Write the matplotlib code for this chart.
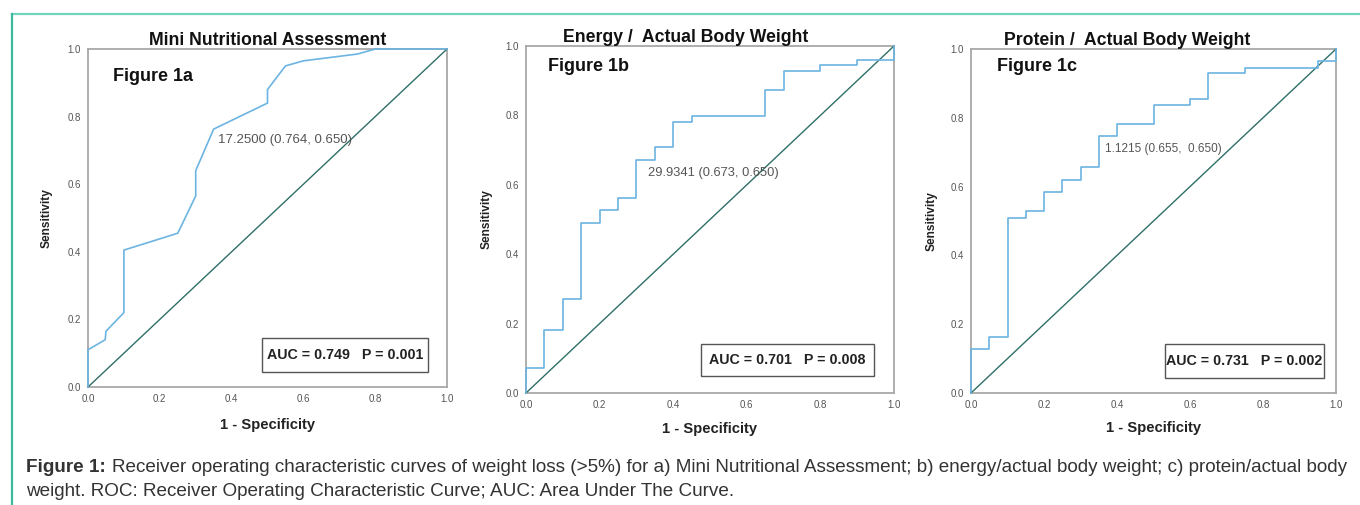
import matplotlib
matplotlib.use('Agg')
import matplotlib.pyplot as plt
from matplotlib.patches import Rectangle
from matplotlib.lines import Line2D

W, H = 1360, 505

# ROC curve points (1 - specificity, sensitivity)
mna_fpr = [0.0, 0.0, 0.048, 0.05, 0.10, 0.10, 0.25, 0.30, 0.30, 0.35, 0.50, 0.50, 0.55, 0.60, 0.75, 0.80, 1.0]
mna_tpr = [0.0, 0.11, 0.14, 0.165, 0.22, 0.405, 0.455, 0.565, 0.64, 0.763, 0.84, 0.88, 0.95, 0.965, 0.985, 1.0, 1.0]

energy_fpr = [0.0, 0.0, 0.05, 0.05, 0.10, 0.10, 0.15, 0.15, 0.20, 0.20, 0.25, 0.25, 0.30, 0.30, 0.35, 0.35,
              0.40, 0.40, 0.45, 0.45, 0.65, 0.65, 0.70, 0.70, 0.80, 0.80, 0.90, 0.90, 1.0, 1.0]
energy_tpr = [0.0, 0.073, 0.073, 0.182, 0.182, 0.271, 0.271, 0.491, 0.491, 0.526, 0.526, 0.562, 0.562, 0.671,
              0.671, 0.709, 0.709, 0.78, 0.78, 0.798, 0.798, 0.874, 0.874, 0.929, 0.929, 0.946, 0.946, 0.961, 0.961, 1.0]

protein_fpr = [0.0, 0.0, 0.05, 0.05, 0.10, 0.10, 0.15, 0.15, 0.20, 0.20, 0.25, 0.25, 0.30, 0.30, 0.35, 0.35,
               0.40, 0.40, 0.50, 0.50, 0.60, 0.60, 0.65, 0.65, 0.75, 0.75, 0.95, 0.95, 1.0, 1.0]
protein_tpr = [0.0, 0.128, 0.128, 0.164, 0.164, 0.51, 0.51, 0.529, 0.529, 0.583, 0.583, 0.619, 0.619, 0.656,
               0.656, 0.747, 0.747, 0.783, 0.783, 0.837, 0.837, 0.856, 0.856, 0.929, 0.929, 0.946, 0.946, 0.965, 0.965, 1.0]

titles = ['Mini Nutritional Assessment', 'Energy /  Actual Body Weight', 'Protein /  Actual Body Weight']
tags = ['Figure 1a', 'Figure 1b', 'Figure 1c']
cutoffs = ['17.2500 (0.764, 0.650)', '29.9341 (0.673, 0.650)', '1.1215 (0.655,  0.650)']
auc_text = ['AUC = 0.749   P = 0.001', 'AUC = 0.701   P = 0.008', 'AUC = 0.731   P = 0.002']
ticks = [0.0, 0.2, 0.4, 0.6, 0.8, 1.0]

# layout in pixels: left, right, top, bottom of each axes
boxes = [(88, 447, 49, 387), (526, 894, 46, 393), (971, 1336, 49, 393)]
title_x = [0.5, 0.435, 0.427]
tag_xy = [(0.07, 0.92), (0.06, 0.94), (0.071, 0.95)]
cut_xy = [(0.362, 0.73), (0.332, 0.634), (0.367, 0.709)]
cut_size = [9.5, 9.3, 8.5]
auc_box = [(0.485, 0.044, 0.462, 0.10), (0.476, 0.049, 0.47, 0.092), (0.532, 0.044, 0.435, 0.098)]
ylab_x = [47, 487, 932]
xlab_y = [425, 429, 428]

plt.rcParams['font.family'] = ['Liberation Sans', 'DejaVu Sans']
fig = plt.figure(figsize=(W/100, H/100), dpi=100)

# teal frame around the figure panel
fig.add_artist(Line2D([12/W, 1], [1-14/H, 1-14/H], color='#72d3bf', lw=1.6))
fig.add_artist(Line2D([12/W, 12/W], [0, 1-14/H], color='#3db89d', lw=1.6))

data = [(mna_fpr, mna_tpr), (energy_fpr, energy_tpr), (protein_fpr, protein_tpr)]
for i, (fpr, tpr) in enumerate(data):
  l, r, t, b = boxes[i]
  ax = fig.add_axes([l/W, 1-b/H, (r-l)/W, (b-t)/H])
  ax.plot([0, 1], [0, 1], color='#2e6f66', lw=1.0, clip_on=False, zorder=3)
  ax.plot(fpr, tpr, color='#6cb4e2', lw=1.2, clip_on=False, zorder=4)
  ax.set_xlim(0, 1)
  ax.set_ylim(0, 1)
  ax.set_xticks(ticks)
  ax.set_yticks(ticks)
  ax.set_xticklabels([f'{v:.1f}' for v in ticks])
  ax.set_yticklabels([f'{v:.1f}' for v in ticks])
  ax.tick_params(length=0, labelsize=7, labelcolor='#555555', pad=5)
  for s in ax.spines.values():
    s.set_color('#a8a8a8')
    s.set_linewidth(1.3)
  ax.text(title_x[i], 1.0, titles[i], transform=ax.transAxes, ha='center', va='bottom',
          fontsize=12.7, fontweight='bold', color='#111111')
  ax.text(*tag_xy[i], tags[i], transform=ax.transAxes, ha='left', va='center',
          fontsize=13, fontweight='bold', color='#111111')
  ax.text(*cut_xy[i], cutoffs[i], ha='left', va='center', fontsize=cut_size[i], color='#555555')
  x0, y0, bw, bh = auc_box[i]
  ax.add_patch(Rectangle((x0, y0), bw, bh, transform=ax.transAxes, fill=False,
                         edgecolor='#555555', lw=1.0))
  ax.text(x0+bw/2, y0+bh/2, auc_text[i], transform=ax.transAxes, ha='center', va='center',
          fontsize=10.3, fontweight='bold', color='#222222')
  fig.text(ylab_x[i]/W, 1-(t+b)/2/H, 'Sensitivity', rotation=90, ha='center', va='center',
           fontsize=8.6, fontweight='bold', color='#222222')
  fig.text((l+r)/2/W, 1-xlab_y[i]/H, '1 - Specificity', ha='center', va='center',
           fontsize=10.6, fontweight='bold', color='#222222')

cap = 13.6
fig.text(26/W, 1-467/H, 'Figure 1:', ha='left', va='center', fontsize=cap, fontweight='bold', color='#333333')
fig.text(112/W, 1-467/H, 'Receiver operating characteristic curves of weight loss (>5%) for a) Mini Nutritional Assessment; '
         'b) energy/actual body weight; c) protein/actual body', ha='left', va='center', fontsize=cap, color='#333333')
fig.text(26/W, 1-492/H, 'weight. ROC: Receiver Operating Characteristic Curve; AUC: Area Under The Curve.',
         ha='left', va='center', fontsize=cap, color='#333333')

fig.savefig('out.png', dpi=100)
